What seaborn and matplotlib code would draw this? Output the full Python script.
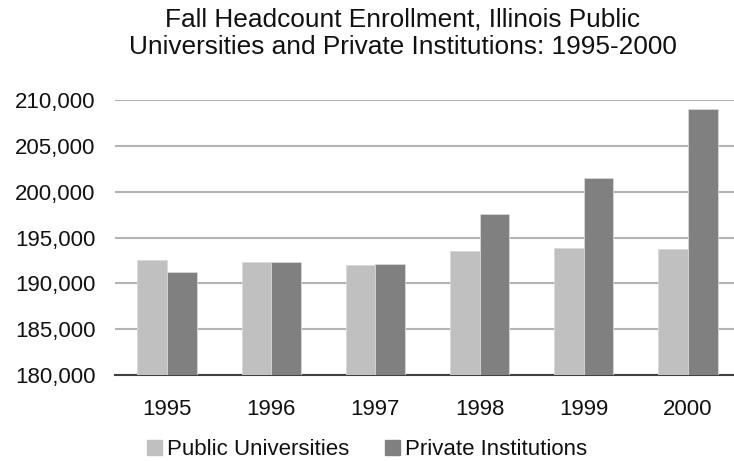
import pandas as pd
import numpy as np
import matplotlib.pyplot as plt
import matplotlib.ticker as mticker
import seaborn as sns

# Dados
anos = ["1995", "1996", "1997", "1998", "1999", "2000"]
publicas = [192500, 192300, 192000, 193550, 193900, 193750]
privadas = [191250, 192350, 192150, 197600, 201450, 209000]
series = ["Public Universities", "Private Institutions"]
cores = ["#c0c0c0", "#808080"]

df = pd.DataFrame({
    "Ano": anos * 2,
    "Matriculas": publicas + privadas,
    "Tipo": [series[0]] * len(anos) + [series[1]] * len(anos),
})

sns.set_style("white")
plt.rcParams["font.family"] = ["Liberation Sans", "DejaVu Sans"]
plt.rcParams["text.color"] = "#111111"
plt.rcParams["xtick.color"] = "#111111"
plt.rcParams["ytick.color"] = "#111111"

fig = plt.figure(figsize=(7.34, 4.61), dpi=100)
ax = fig.add_axes([115 / 734, 1 - 375 / 461, 625 / 734, 275 / 461])

sns.barplot(data=df, x="Ano", y="Matriculas", hue="Tipo", palette=cores,
            width=0.57, ax=ax, legend=False, zorder=3,
            edgecolor="#d8d8d8", linewidth=0.6)

ax.set_ylim(180000, 210000)
ax.set_xlim(-0.5, len(anos) - 0.5)
ax.yaxis.set_major_locator(mticker.MultipleLocator(5000))
ax.yaxis.set_major_formatter(mticker.FuncFormatter(lambda v, p: f"{int(v):,}"))
ax.grid(axis="y", color="#b4b4b4", linewidth=1.5, zorder=0)
ax.set_axisbelow(True)

for s in ["top", "right", "left"]:
    ax.spines[s].set_visible(False)
ax.spines["bottom"].set_color("#404040")
ax.spines["bottom"].set_linewidth(1.5)

ax.set_xticks(np.arange(-0.5, len(anos), 1.0), minor=True)
ax.tick_params(axis="x", which="minor", length=6, width=1.5, color="#404040", direction="out")
ax.tick_params(axis="x", which="major", length=0, pad=17, labelsize=16)
ax.tick_params(axis="y", length=0, pad=14, labelsize=16)
ax.set_xlabel("")
ax.set_ylabel("")

fig.text(0.549, 0.984, "Fall Headcount Enrollment, Illinois Public\nUniversities and Private Institutions: 1995-2000",
         ha="center", va="top", fontsize=18.9, linespacing=1.18)

handles = [plt.Rectangle((0, 0), 1, 1, color=c) for c in cores]
fig.legend(handles, series, loc="center", bbox_to_anchor=(0.5, 0.024), ncol=2,
           frameon=False, fontsize=16, handlelength=0.68, handleheight=0.68,
           handletextpad=0.23, columnspacing=1.6, borderpad=0)

plt.savefig("out.png", dpi=100)
plt.close()
